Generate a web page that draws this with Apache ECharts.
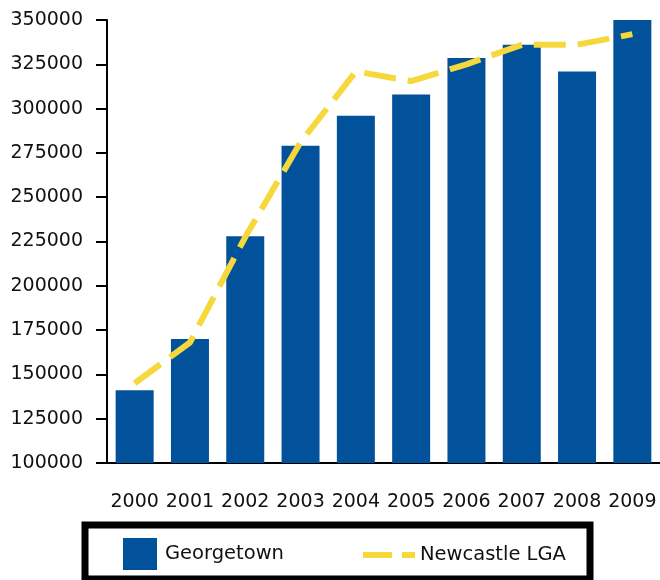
<!DOCTYPE html>
<html>
<head>
<meta charset="utf-8">
<title>Georgetown vs Newcastle LGA</title>
<script src="https://cdn.jsdelivr.net/npm/echarts@6/dist/echarts.min.js"></script>
<style>
  html, body { margin: 0; padding: 0; background: #fff; }
  #main { width: 660px; height: 580px; }
</style>
</head>
<body>
<div id="main"></div>
<script>
// 数据
var years = ['2000', '2001', '2002', '2003', '2004', '2005', '2006', '2007', '2008', '2009'];
var georgetown = [141000, 170000, 228000, 279000, 296000, 308000, 328500, 336000, 321000, 350000];
var newcastle = [145000, 168000, 227500, 281000, 321000, 315500, 325000, 336000, 336000, 342000];
var yTicks = { min: 100000, max: 350000, step: 25000 };

var font = 'DejaVu Sans';
var chart = echarts.init(document.getElementById('main'), null, { renderer: 'canvas' });

var option = {
  backgroundColor: '#fff',
  animation: false,
  grid: {
    left: 107,
    top: 20,
    width: 555,
    bottom: 117
  },
  // legend box is drawn here, the two legends sit inside it
  graphic: [{
    type: 'rect',
    shape: { x: 85, y: 525, width: 505, height: 54 },
    style: { fill: 'none', stroke: '#000', lineWidth: 7 },
    z: 100
  }],
  legend: [{
    data: [{ name: 'Georgetown', icon: 'rect' }],
    left: 118,
    top: 533,
    itemWidth: 34,
    itemHeight: 32,
    selectedMode: false,
    textStyle: { fontFamily: font, fontSize: 19.5, color: '#111', padding: [0, 0, 0, 3] }
  }, {
    // dashed line icon, two dashes like the reference key
    data: [{ name: 'Newcastle LGA', icon: 'path://M0,0H29V6H0Z M39,0H52V6H39Z' }],
    left: 358,
    top: 540,
    itemWidth: 52,
    itemHeight: 32,
    symbolKeepAspect: true,
    selectedMode: false,
    textStyle: { fontFamily: font, fontSize: 19.5, color: '#111', padding: [0, 0, 0, 0] }
  }],
  xAxis: {
    type: 'category',
    data: years,
    axisLine: { lineStyle: { color: '#000', width: 2 } },
    axisTick: { alignWithLabel: true, length: 12, lineStyle: { color: '#000', width: 2 } },
    axisLabel: { interval: 0, margin: 30, fontFamily: font, fontSize: 19, color: '#111' }
  },
  yAxis: {
    type: 'value',
    min: yTicks.min,
    max: yTicks.max,
    interval: yTicks.step,
    axisLine: { show: true, lineStyle: { color: '#000', width: 2 } },
    axisTick: { show: true, length: 11, lineStyle: { color: '#000', width: 2 } },
    axisLabel: {
      margin: 24,
      fontFamily: font,
      fontSize: 19,
      color: '#111',
      formatter: function (v) { return String(v); }
    },
    splitLine: { show: false }
  },
  series: [{
    name: 'Georgetown',
    type: 'bar',
    data: georgetown,
    barWidth: 38,
    itemStyle: { color: '#02529b' },
    z: 2
  }, {
    name: 'Newcastle LGA',
    type: 'line',
    data: newcastle,
    symbol: 'none',
    color: '#f6d83c',
    lineStyle: { color: '#f6d83c', width: 6, type: [32, 12], cap: 'butt' },
    z: 3
  }]
};

chart.setOption(option);
</script>
</body>
</html>
